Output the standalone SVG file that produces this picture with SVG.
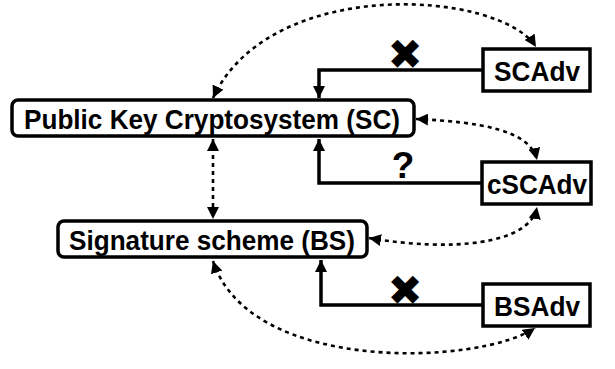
<svg xmlns="http://www.w3.org/2000/svg" width="615" height="369" viewBox="0 0 615 369">
  <style>
    .box { fill: #fff; stroke: #000; stroke-width: 3.5; }
    .lbl { font-family: "Liberation Sans", Arial, sans-serif; font-weight: bold; font-size: 28px; fill: #000; text-anchor: middle; dominant-baseline: central; }
    .solid { fill: none; stroke: #000; stroke-width: 3.5; }
    .dot { fill: none; stroke: #000; stroke-width: 2.6; stroke-dasharray: 4 4; }
    .mark { font-family: "DejaVu Sans", sans-serif; font-weight: bold; font-size: 42px; fill: #000; text-anchor: middle; dominant-baseline: central; }
    .q { font-family: "Liberation Sans", Arial, sans-serif; font-weight: bold; font-size: 37px; fill: #000; text-anchor: middle; dominant-baseline: central; }
  </style>
  <defs>
    <marker id="ah" viewBox="0 0 10 10" refX="10" refY="5" markerWidth="12" markerHeight="12" markerUnits="userSpaceOnUse" orient="auto-start-reverse">
      <path d="M0,0 L10,5 L0,10 z" fill="#000"/>
    </marker>
    <marker id="ahs" viewBox="0 0 10 10" refX="10" refY="5" markerWidth="12" markerHeight="12" markerUnits="userSpaceOnUse" orient="auto">
      <path d="M0,0 L10,5 L0,10 z" fill="#000"/>
    </marker>
  </defs>

  <g id="connectors">
    <!-- solid relations -->
    <path class="solid" d="M483,70 H319 V98" marker-end="url(#ahs)"/>
    <path class="solid" d="M482,183 H319 V139" marker-end="url(#ahs)"/>
    <path class="solid" d="M483,305 H321 V260" marker-end="url(#ahs)"/>
    <!-- dotted relations -->
    <path class="dot" d="M213,98 C270,-25 500,-10 536,47" marker-start="url(#ah)" marker-end="url(#ah)"/>
    <path class="dot" d="M416,119 C480,122 530,130 537,160" marker-start="url(#ah)" marker-end="url(#ah)"/>
    <path class="dot" d="M213,139 V219" marker-start="url(#ah)" marker-end="url(#ah)"/>
    <path class="dot" d="M369,238 C450,252 530,245 537,207" marker-start="url(#ah)" marker-end="url(#ah)"/>
    <path class="dot" d="M213,261 C250,375 480,365 535,328" marker-start="url(#ah)" marker-end="url(#ah)"/>
    <!-- labels -->
    <text class="mark" x="405" y="54">✖</text>
    <text class="q" x="403" y="165">?</text>
    <text class="mark" x="405" y="290">✖</text>
  </g>

  <g id="sc">
    <rect class="box" x="12" y="100" width="402" height="36" rx="6"/>
    <text class="lbl" x="212" y="119" textLength="376" lengthAdjust="spacingAndGlyphs">Public Key Cryptosystem (SC)</text>
  </g>
  <g id="bs">
    <rect class="box" x="58" y="221" width="309" height="36" rx="6"/>
    <text class="lbl" x="212" y="240" textLength="286" lengthAdjust="spacingAndGlyphs">Signature scheme (BS)</text>
  </g>
  <g id="scadv">
    <rect class="box" x="483" y="49" width="107" height="42"/>
    <text class="lbl" x="537" y="71" textLength="86" lengthAdjust="spacingAndGlyphs">SCAdv</text>
  </g>
  <g id="cscadv">
    <rect class="box" x="482" y="162" width="109" height="42"/>
    <text class="lbl" x="537" y="184" textLength="100" lengthAdjust="spacingAndGlyphs">cSCAdv</text>
  </g>
  <g id="bsadv">
    <rect class="box" x="483" y="284" width="107" height="42"/>
    <text class="lbl" x="537" y="306" textLength="86" lengthAdjust="spacingAndGlyphs">BSAdv</text>
  </g>
</svg>
